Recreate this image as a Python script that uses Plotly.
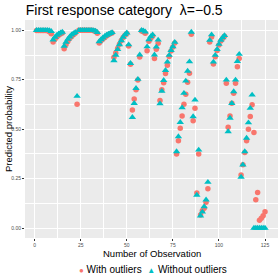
import plotly.graph_objects as go

obs = list(range(1, 126))

with_outliers = [
    0.999, 0.999, 0.999, 0.999, 0.999, 0.999, 0.998, 0.993, 0.983,      # 1-9
    0.941, 0.955, 0.966, 0.975, 0.981, 0.986,                            # 10-15
    0.907, 0.928, 0.945, 0.958, 0.969, 0.978, 0.985,                     # 16-22
    0.626,                                                               # 23
    1.0, 1.0, 1.0, 1.0, 1.0, 1.0, 1.0, 1.0, 0.998, 0.994, 0.985,         # 24-34
    0.936, 0.947, 0.956, 0.964, 0.971, 0.977, 0.982, 0.986,              # 35-42
    0.864, 0.885, 0.908, 0.930, 0.948, 0.963, 0.975, 0.984,              # 43-50
    0.920, 0.828, 0.597, 0.653, 0.700, 0.749, 0.865,                     # 51-57
    0.997, 0.993, 0.985,                                                 # 58-60
    0.897, 0.945, 0.960, 0.971,                                          # 61-64
    0.857, 0.904, 0.935,                                                 # 65-67
    0.645, 0.700, 0.735, 0.781, 0.823, 0.868, 0.895, 0.916, 0.936,       # 68-76
    0.374, 0.441, 0.505, 0.567, 0.626, 0.677, 0.737, 0.783,              # 77-84
    0.980, 0.543, 0.606, 0.177, 0.374,                                   # 85-89
    0.066, 0.088, 0.100, 0.131, 0.199,                                   # 90-94
    0.941, 0.966,                                                        # 95-96
    0.830, 0.866, 0.898, 0.925, 0.946, 0.958, 0.970,                     # 97-103
    0.732, 0.510, 0.567, 0.631, 0.682, 0.732, 0.816, 0.857,              # 104-111
    0.269, 0.320, 0.382, 0.441, 0.500, 0.564, 0.623,                     # 112-118
    0.483, 0.143, 0.180, 0.040, 0.050, 0.063, 0.083,                     # 119-125
]

without_outliers = [
    1.0, 1.0, 1.0, 1.0, 1.0, 1.0, 1.0, 0.999, 0.995,                    # 1-9
    0.952, 0.965, 0.975, 0.982, 0.987, 0.991,                            # 10-15
    0.920, 0.940, 0.955, 0.967, 0.977, 0.984, 0.990,                     # 16-22
    0.667,                                                               # 23
    1.0, 1.0, 1.0, 1.0, 1.0, 1.0, 1.0, 1.0, 0.999, 0.997, 0.990,         # 24-34
    0.943, 0.953, 0.962, 0.970, 0.976, 0.981, 0.985, 0.989,              # 35-42
    0.847, 0.875, 0.903, 0.928, 0.948, 0.965, 0.978, 0.987,              # 43-50
    0.927, 0.833, 0.560, 0.631, 0.707, 0.753, 0.876,                     # 51-57
    1.0, 0.998, 0.992,                                                   # 58-60
    0.917, 0.953, 0.968, 0.978,                                          # 61-64
    0.876, 0.916, 0.951,                                                 # 65-67
    0.629, 0.692, 0.747, 0.798, 0.840, 0.874, 0.899, 0.918, 0.940,       # 68-76
    0.387, 0.463, 0.535, 0.609, 0.682, 0.744, 0.794, 0.841,              # 77-84
    0.991, 0.564, 0.648, 0.167, 0.395,                                   # 85-89
    0.062, 0.082, 0.109, 0.143, 0.232,                                   # 90-94
    0.950, 0.978,                                                        # 95-96
    0.840, 0.874, 0.904, 0.930, 0.950, 0.963, 0.974,                     # 97-103
    0.749, 0.488, 0.556, 0.631, 0.690, 0.749, 0.843, 0.879,              # 104-111
    0.258, 0.320, 0.387, 0.455, 0.533, 0.606, 0.673,                     # 112-118
    0.0, 0.0, 0.0, 0.0, 0.0, 0.0, 0.0,                                   # 119-125
]

x_ticks = [0, 25, 50, 75, 100, 125]
x_tick_labels = ["0", "25", "50", "75", "100", "125"]
y_ticks = [0.0, 0.25, 0.5, 0.75, 1.0]
y_tick_labels = ["0.00", "0.25", "0.50", "0.75", "1.00"]

series_names = ["With outliers", "Without outliers"]
series_colors = ["#F8766D", "#00BFC4"]

fig = go.Figure()
fig.add_trace(go.Scatter(
    x=obs, y=with_outliers, mode="markers", name=series_names[0],
    marker=dict(symbol="circle", size=5.5, color=series_colors[0], line=dict(width=0)),
))
fig.add_trace(go.Scatter(
    x=obs, y=without_outliers, mode="markers", name=series_names[1],
    marker=dict(symbol="triangle-up", size=6.5, color=series_colors[1], line=dict(width=0)),
))

font = "Liberation Sans, Arial, sans-serif"

legend_text = (
    f"<span style='color:{series_colors[0]};font-size:8px'>\u25cf</span> {series_names[0]}  "
    f"<span style='color:{series_colors[1]};font-size:8px'>\u25b2</span> {series_names[1]}"
)

fig.update_layout(
    width=280, height=280,
    margin=dict(l=25, r=2, t=20, b=42, autoexpand=False),
    paper_bgcolor="white",
    plot_bgcolor="#EBEBEB",
    font=dict(family=font, color="black"),
    title=dict(text="First response category  \u03bb=\u22120.5", x=0.003, xref="paper", xanchor="left",
               y=1 - 10 / 280, yref="container", yanchor="middle",
               font=dict(size=14, family=font, color="black")),
    showlegend=False,
    xaxis=dict(
        range=[-5.26, 132.05], tickvals=x_ticks, ticktext=x_tick_labels,
        showgrid=True, gridcolor="white", gridwidth=1,
        minor=dict(dtick=12.5, tick0=12.5, showgrid=True, gridcolor="white", gridwidth=0.5),
        zeroline=False, ticks="outside", ticklen=2, tickcolor="#333333", tickwidth=0.7,
        tickfont=dict(size=5, color="#4D4D4D", family=font),
        automargin=False, showline=False,
    ),
    yaxis=dict(
        range=[-0.05, 1.052], tickvals=y_ticks, ticktext=y_tick_labels,
        showgrid=True, gridcolor="white", gridwidth=1,
        minor=dict(dtick=0.125, tick0=0.125, showgrid=True, gridcolor="white", gridwidth=0.5),
        zeroline=False, ticks="outside", ticklen=2, tickcolor="#333333", tickwidth=0.7,
        tickfont=dict(size=5, color="#4D4D4D", family=font),
        automargin=False, showline=False,
    ),
    annotations=[
        dict(text="Number of Observation", xref="paper", yref="paper", x=0.5, y=-0.071,
             xanchor="center", yanchor="middle", showarrow=False,
             font=dict(size=9.5, color="black", family=font)),
        dict(text="Predicted probability", xref="paper", yref="paper", x=-0.067, y=0.5,
             xanchor="center", yanchor="middle", showarrow=False, textangle=-90,
             font=dict(size=9.5, color="black", family=font)),
        dict(text=legend_text, xref="paper", yref="paper", x=0.504, y=-0.145,
             xanchor="center", yanchor="middle", showarrow=False,
             font=dict(size=10, color="black", family=font)),
    ],
)

fig.write_html("out.html", config={"displayModeBar": False},
               post_script="document.body.style.margin='0';")
